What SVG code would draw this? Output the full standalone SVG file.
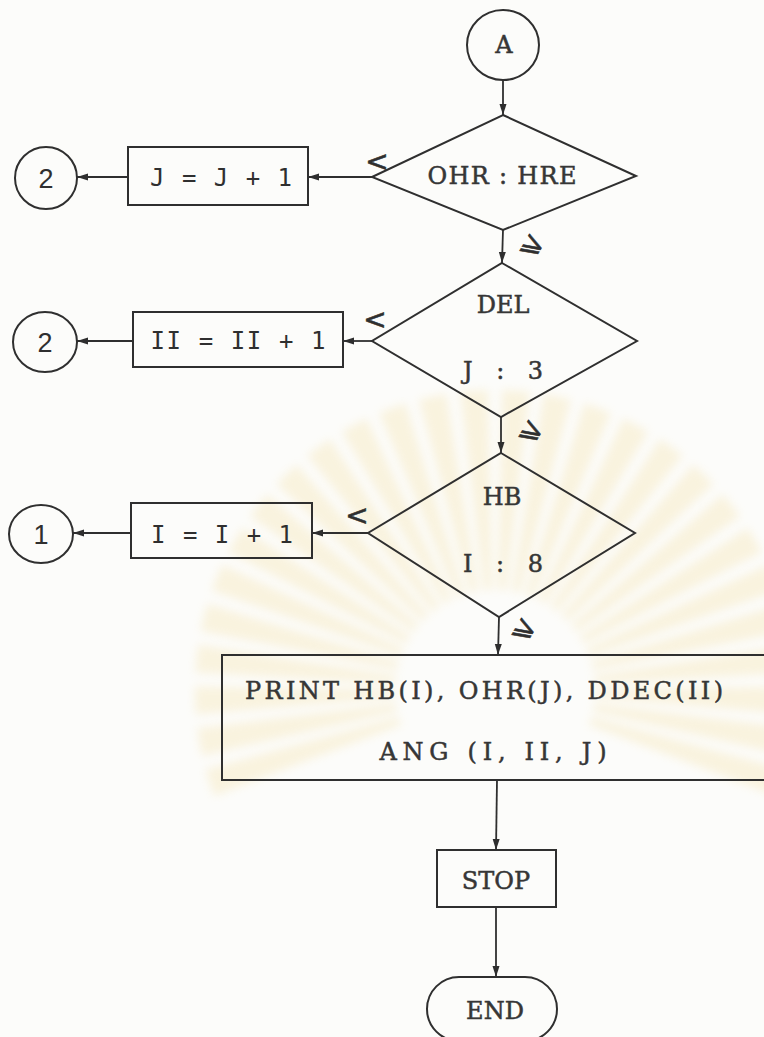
<svg xmlns="http://www.w3.org/2000/svg" width="764" height="1037" viewBox="0 0 764 1037">
  <defs>
    <marker id="arrow" markerWidth="13" markerHeight="9" refX="11" refY="4.5" orient="auto" markerUnits="userSpaceOnUse">
      <path d="M0,1 L11,4.5 L0,8 Z" fill="#2e2e2e"/>
    </marker>
    <path id="ray" d="M-4,-100 L4,-100 L14,-300 L-14,-300 Z"/>
    <filter id="soft" x="-20%" y="-20%" width="140%" height="140%">
      <feGaussianBlur stdDeviation="5"/>
    </filter>
  </defs>
  <style>
    .shape{fill:none;stroke:#2f2f2f;stroke-width:2}
    .link{fill:none;stroke:#2f2f2f;stroke-width:1.8;marker-end:url(#arrow)}
    .tw{font-family:"DejaVu Serif","Liberation Serif",serif;fill:#363636;font-size:24px;text-anchor:middle;stroke:#363636;stroke-width:0.5}
    .lg{font-family:"DejaVu Sans Mono",monospace;fill:#2f2f2f;font-size:24px;text-anchor:middle}
    .num{font-family:"Liberation Sans",Arial,sans-serif;fill:#2f2f2f;font-size:27px;text-anchor:middle}
    .rel{font-family:"DejaVu Sans",sans-serif;fill:#2f2f2f;font-size:28px;text-anchor:middle;stroke:#2f2f2f;stroke-width:0.6}
  </style>

  <rect width="764" height="1037" fill="#fcfcfa"/>

  <!-- faint sunburst emblem behind the lower part of the chart -->
  <g id="emblem" fill="#f2dc98" opacity="0.28" filter="url(#soft)" transform="translate(495,690)">
    <use href="#ray" transform="rotate(-108)"/>
    <use href="#ray" transform="rotate(-100)"/>
    <use href="#ray" transform="rotate(-92)"/>
    <use href="#ray" transform="rotate(-84)"/>
    <use href="#ray" transform="rotate(-76)"/>
    <use href="#ray" transform="rotate(-68)"/>
    <use href="#ray" transform="rotate(-60)"/>
    <use href="#ray" transform="rotate(-52)"/>
    <use href="#ray" transform="rotate(-44)"/>
    <use href="#ray" transform="rotate(-36)"/>
    <use href="#ray" transform="rotate(-28)"/>
    <use href="#ray" transform="rotate(-20)"/>
    <use href="#ray" transform="rotate(-12)"/>
    <use href="#ray" transform="rotate(-4)"/>
    <use href="#ray" transform="rotate(4)"/>
    <use href="#ray" transform="rotate(12)"/>
    <use href="#ray" transform="rotate(20)"/>
    <use href="#ray" transform="rotate(28)"/>
    <use href="#ray" transform="rotate(36)"/>
    <use href="#ray" transform="rotate(44)"/>
    <use href="#ray" transform="rotate(52)"/>
    <use href="#ray" transform="rotate(60)"/>
    <use href="#ray" transform="rotate(68)"/>
    <use href="#ray" transform="rotate(76)"/>
    <use href="#ray" transform="rotate(84)"/>
    <use href="#ray" transform="rotate(92)"/>
    <use href="#ray" transform="rotate(100)"/>
    <use href="#ray" transform="rotate(108)"/>
  </g>

  <!-- connectors -->
  <g id="connectors">
    <path class="link" d="M503,80 V115"/>
    <path class="link" d="M372,177 H308"/>
    <path class="link" d="M128,177 H77"/>
    <path class="link" d="M503,230 L502,263"/>
    <path class="link" d="M372,341 H343"/>
    <path class="link" d="M133,341 H77"/>
    <path class="link" d="M501,417 V453"/>
    <path class="link" d="M368,533 H312"/>
    <path class="link" d="M131,533 H73"/>
    <path class="link" d="M499,617 L498,655"/>
    <path class="link" d="M497,780 L496,850"/>
    <path class="link" d="M496,907 V977"/>
  </g>

  <!-- branch labels -->
  <g id="labels">
    <text class="rel" x="377" y="171">&lt;</text>
    <text class="rel" x="375" y="329">&lt;</text>
    <text class="rel" x="357" y="525">&lt;</text>
    <text class="rel" font-size="24" transform="translate(529,252) rotate(30)">⩾</text>
    <text class="rel" font-size="24" transform="translate(528,438) rotate(30)">⩾</text>
    <text class="rel" font-size="24" transform="translate(521,636) rotate(30)">⩾</text>
  </g>

  <g id="start-A">
    <ellipse class="shape" cx="503" cy="45" rx="36" ry="35"/>
    <text class="tw" x="504" y="53" font-size="21">A</text>
  </g>

  <g id="test-ohr">
    <path class="shape" d="M503,115 L636,176 L503,230 L372,177 Z"/>
    <text class="tw" x="502" y="184" textLength="149" lengthAdjust="spacing">OHR : HRE</text>
  </g>

  <g id="step-j">
    <rect class="shape" x="128" y="147" width="180" height="58"/>
    <text class="lg" x="221" y="186" textLength="142" lengthAdjust="spacing">J = J + 1</text>
  </g>

  <g id="goto-2a">
    <circle class="shape" cx="46" cy="178" r="31"/>
    <text class="num" x="46" y="188">2</text>
  </g>

  <g id="test-del">
    <path class="shape" d="M502,263 L637,341 L501,417 L372,341 Z"/>
    <text class="tw" x="503" y="313" font-size="22">DEL</text>
    <text class="tw" x="503" y="379" textLength="80" lengthAdjust="spacing">J : 3</text>
  </g>

  <g id="step-ii">
    <rect class="shape" x="133" y="312" width="210" height="55"/>
    <text class="lg" x="238" y="349" textLength="175" lengthAdjust="spacing">II = II + 1</text>
  </g>

  <g id="goto-2b">
    <ellipse class="shape" cx="45" cy="342" rx="32" ry="30"/>
    <text class="num" x="45" y="352">2</text>
  </g>

  <g id="test-hb">
    <path class="shape" d="M501,453 L635,533 L499,617 L368,533 Z"/>
    <text class="tw" x="502" y="505" font-size="22">HB</text>
    <text class="tw" x="503" y="572" textLength="80" lengthAdjust="spacing">I : 8</text>
  </g>

  <g id="step-i">
    <rect class="shape" x="131" y="503" width="181" height="55"/>
    <text class="lg" x="222" y="543" textLength="142" lengthAdjust="spacing">I = I + 1</text>
  </g>

  <g id="goto-1">
    <ellipse class="shape" cx="41" cy="534" rx="32" ry="29"/>
    <text class="num" x="41" y="544">1</text>
  </g>

  <g id="print">
    <rect class="shape" x="222" y="655" width="548" height="125"/>
    <text class="tw" x="484" y="699" font-size="25" textLength="478" lengthAdjust="spacing">PRINT HB(I), OHR(J), DDEC(II)</text>
    <text class="tw" x="493" y="760" font-size="25" textLength="227" lengthAdjust="spacing">ANG (I, II, J)</text>
  </g>

  <g id="stop">
    <rect class="shape" x="437" y="850" width="119" height="57"/>
    <text class="tw" x="496" y="889">STOP</text>
  </g>

  <g id="end">
    <path class="shape" d="M459,977 H525 A32,32 0 0 1 525,1041 H459 A32,32 0 0 1 459,977 Z"/>
    <text class="tw" x="495" y="1019" font-size="22">END</text>
  </g>
</svg>
